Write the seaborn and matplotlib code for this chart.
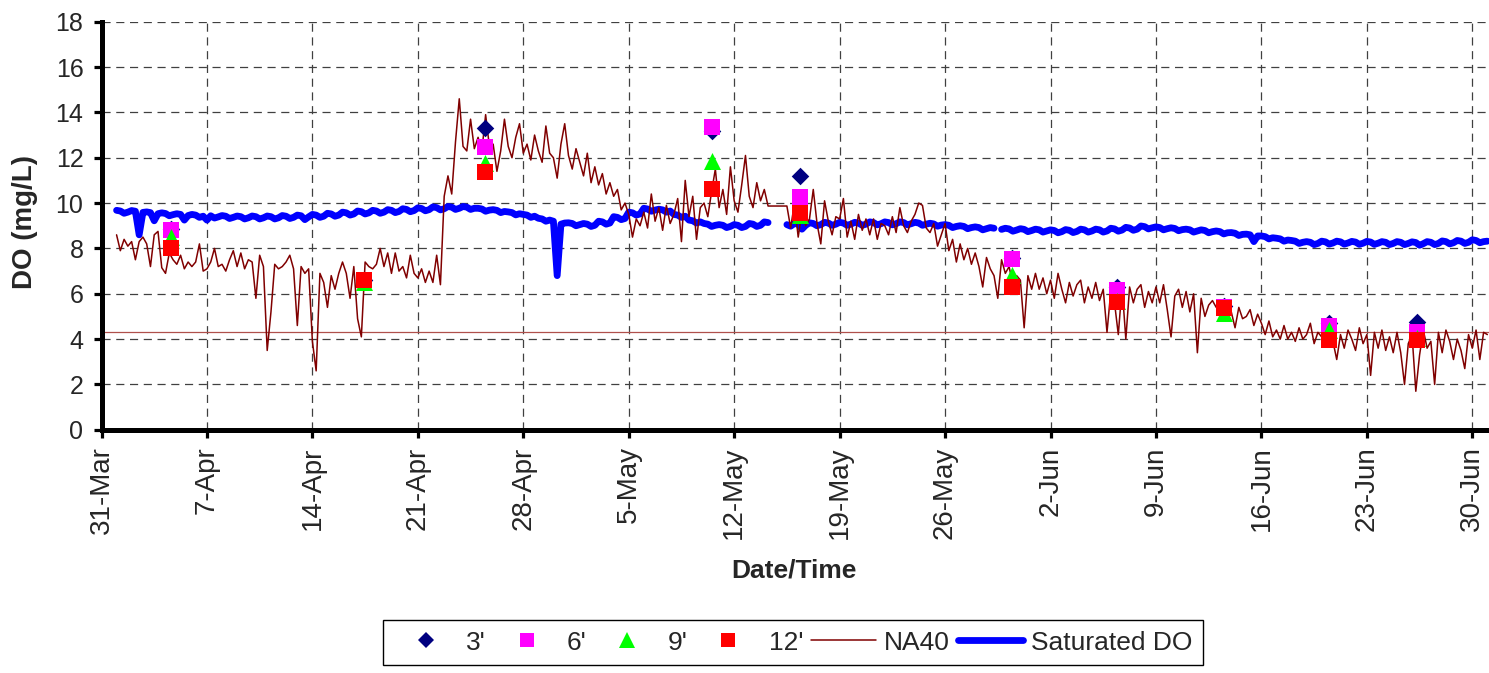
import numpy as np
import pandas as pd
import matplotlib
matplotlib.use("Agg")
import matplotlib.pyplot as plt
import matplotlib.dates as mdates
from matplotlib.lines import Line2D
from matplotlib.ticker import FuncFormatter
import seaborn as sns

# ---------------------------------------------------------------------------
# Data
# ---------------------------------------------------------------------------
# Continuous sonde record at NA40, readings every 6 hours (00, 06, 12, 18 h),
# one row per day starting 1 Apr.
na40_do = [
    8.6, 7.9, 8.4, 8.1,    # 1 Apr
    8.3, 7.5, 8.3, 8.5,
    8.2, 7.2, 8.6, 8.75,
    7.15, 6.9, 7.8, 7.5,
    7.3, 7.7, 7.1, 7.4,    # 5 Apr
    7.2, 7.4, 8.2, 7.0,
    7.1, 7.4, 8.0, 7.2,
    7.3, 7.0, 7.5, 7.9,
    7.2, 7.8, 7.1, 7.5,
    7.4, 5.8, 7.7, 7.2,    # 10 Apr
    3.5, 5.2, 7.3, 7.1,
    7.2, 7.4, 7.7, 7.1,
    4.6, 7.2, 6.9, 7.1,
    3.9, 2.6, 6.9, 6.5,
    5.4, 6.8, 6.2, 6.9,    # 15 Apr
    7.4, 6.9, 5.8, 7.2,
    4.9, 4.1, 7.4, 7.2,
    7.1, 7.3, 8.0, 7.2,
    7.8, 6.9, 7.8, 7.0,
    7.2, 6.7, 7.7, 6.9,    # 20 Apr
    6.7, 7.1, 6.5, 7.0,
    6.5, 7.7, 6.4, 10.3,
    11.2, 10.4, 12.7, 14.6,
    12.5, 12.3, 13.7, 12.4,
    12.9, 12.3, 13.9, 12.5,  # 25 Apr
    12.6, 11.4, 12.3, 13.7,
    12.5, 12.0, 12.9, 13.5,
    12.2, 12.6, 11.9, 13.0,
    12.3, 11.8, 13.4, 12.2,
    12.0, 11.1, 12.6, 13.5,  # 30 Apr
    12.1, 11.5, 12.4, 11.8,  # 1 May
    11.2, 12.2, 10.9, 11.6,
    10.8, 11.3, 10.4, 10.9,
    10.3, 10.6, 9.7, 10.0,
    9.5, 8.5, 9.3, 9.0,      # 5 May
    9.6, 8.9, 10.4, 9.2,
    9.8, 8.8, 9.9, 9.1,
    9.5, 10.2, 8.3, 11.0,
    9.4, 10.3, 8.4, 9.8,
    10.0, 9.4, 10.5, 11.5,   # 10 May
    9.8, 10.6, 9.5, 11.6,
    10.1, 9.6, 10.8, 12.1,
    10.3, 9.8, 10.9, 10.1,
    10.6, 9.87, 9.87, 9.87,
    9.87, 9.87, 9.87, 8.9,   # 15 May
    10.0, 8.5, 9.6, 9.0,
    9.3, 10.6, 9.1, 8.2,
    10.1, 9.2, 8.6, 9.4,
    9.3, 10.2, 8.5, 9.2,
    8.4, 9.5, 8.8, 9.3,      # 20 May
    8.6, 9.3, 8.4, 9.1,
    9.0, 8.6, 9.4, 8.7,
    9.8, 9.0, 8.7, 9.2,
    9.5, 10.0, 9.9, 8.9,
    8.7, 9.1, 8.1, 8.6,      # 25 May
    9.1, 7.9, 8.4, 7.4,
    8.2, 7.5, 8.0, 7.3,
    7.8, 7.2, 6.3, 7.6,
    7.1, 6.8, 5.8, 7.5,
    6.9, 7.2, 6.4, 6.8,      # 30 May
    6.6, 4.5, 6.8, 6.2,
    6.9, 6.2, 6.7, 6.0,      # 1 Jun
    6.6, 5.8, 6.9, 6.2,
    5.6, 6.5, 5.9, 6.4,
    6.6, 5.6, 6.3, 5.8,
    6.5, 5.7, 6.2, 4.3,      # 5 Jun
    6.1, 5.6, 4.2, 6.3,
    4.0, 6.3, 5.6, 6.2,
    6.4, 5.4, 6.1, 5.6,
    6.3, 5.6, 6.4, 5.3,
    4.1, 5.9, 6.2, 5.4,      # 10 Jun
    6.1, 5.2, 6.0, 3.4,
    5.8, 5.0, 5.5, 5.7,
    5.4, 5.7, 4.9, 5.3,
    5.2, 4.5, 5.4, 4.9,
    5.0, 5.3, 4.6, 5.1,      # 15 Jun
    4.7, 4.2, 4.8, 4.1,
    4.4, 4.0, 4.6, 4.0,
    4.3, 3.9, 4.5, 4.0,
    4.2, 4.7, 3.8, 4.3,
    4.1, 3.7, 4.6, 3.9,      # 20 Jun
    3.1, 4.2, 3.6, 4.4,
    4.0, 3.5, 4.5, 3.8,
    4.2, 2.4, 4.3, 3.6,
    4.4, 3.5, 4.1, 3.4,
    4.3, 3.4, 2.0, 3.8,      # 25 Jun
    4.2, 1.7, 3.3, 4.4,
    3.6, 3.9, 2.0, 4.3,
    3.4, 4.4, 3.9, 3.1,
    4.0, 3.5, 2.7, 4.2,
    3.6, 4.4, 3.1, 4.3,      # 30 Jun
    4.2,                     # 1 Jul
]

# Saturated DO on the same 6-hourly clock (NaN = no reading)
saturated_do = [
    9.68, 9.65, 9.55, 9.60,   # 1 Apr
    9.67, 9.64, 8.60, 9.59,
    9.61, 9.58, 9.22, 9.53,
    9.57, 9.54, 9.44, 9.49,
    9.53, 9.50, 9.25, 9.45,   # 5 Apr
    9.50, 9.47, 9.37, 9.42,
    9.25, 9.44, 9.34, 9.39,
    9.45, 9.42, 9.32, 9.37,
    9.43, 9.40, 9.30, 9.35,
    9.43, 9.40, 9.30, 9.35,   # 10 Apr
    9.43, 9.40, 9.30, 9.35,
    9.45, 9.42, 9.32, 9.37,
    9.47, 9.44, 9.27, 9.39,
    9.50, 9.47, 9.37, 9.42,
    9.55, 9.52, 9.42, 9.47,   # 15 Apr
    9.60, 9.57, 9.47, 9.52,
    9.65, 9.62, 9.52, 9.57,
    9.68, 9.65, 9.55, 9.60,
    9.71, 9.68, 9.58, 9.63,
    9.75, 9.72, 9.62, 9.67,   # 20 Apr
    9.79, 9.76, 9.66, 9.71,
    9.83, 9.80, 9.70, 9.75,
    9.85, 9.82, 9.72, 9.77,
    9.85, 9.82, 9.72, 9.77,
    9.77, 9.74, 9.64, 9.69,   # 25 Apr
    9.71, 9.68, 9.58, 9.63,
    9.61, 9.58, 9.48, 9.53,
    9.50, 9.47, 9.37, 9.42,
    9.33, 9.30, 9.20, 9.25,
    9.20, 6.80, 9.07, 9.12,   # 30 Apr
    9.13, 9.10, 9.00, 9.05,   # 1 May
    9.10, 9.07, 8.97, 9.02,
    9.20, 9.17, 9.07, 9.12,
    9.40, 9.37, 9.27, 9.32,
    9.60, 9.57, 9.47, 9.52,   # 5 May
    9.77, 9.74, 9.64, 9.69,
    9.73, 9.70, 9.60, 9.65,
    9.50, 9.47, 9.37, 9.42,
    9.25, 9.22, 9.12, 9.17,
    9.10, 9.07, 8.97, 9.02,   # 10 May
    9.05, 9.02, 8.92, 8.97,
    9.05, 9.02, 8.92, 8.97,
    9.10, 9.07, 8.97, 9.02,
    9.17, 9.14, np.nan, np.nan,
    np.nan, np.nan, 9.05, 8.98,  # 15 May
    9.10, 9.07, 8.85, 9.02,
    9.13, 9.10, 9.00, 9.05,
    9.15, 9.12, 9.02, 9.07,
    9.15, 9.12, 9.02, 9.07,
    9.15, 9.12, 9.02, 9.07,   # 20 May
    9.17, 9.14, 9.04, 9.09,
    9.17, 9.14, 9.04, 9.09,
    9.17, 9.14, 9.04, 9.09,
    9.15, 9.12, 9.02, 9.07,
    9.11, 9.08, 8.98, 9.03,   # 25 May
    9.05, 9.02, 8.92, 8.97,
    9.00, 8.97, 8.87, 8.92,
    8.95, 8.92, 8.82, 8.87,
    8.92, 8.89, np.nan, 8.84,
    8.89, 8.86, 8.76, 8.81,   # 30 May
    8.87, 8.84, 8.74, 8.79,
    8.85, 8.82, 8.72, 8.77,   # 1 Jun
    8.82, 8.79, 8.69, 8.74,
    8.83, 8.80, 8.70, 8.75,
    8.85, 8.82, 8.72, 8.77,
    8.85, 8.82, 8.72, 8.77,   # 5 Jun
    8.89, 8.86, 8.76, 8.81,
    8.93, 8.90, 8.80, 8.85,
    8.99, 8.96, 8.86, 8.91,
    8.95, 8.92, 8.82, 8.87,
    8.91, 8.88, 8.78, 8.83,   # 10 Jun
    8.85, 8.82, 8.72, 8.77,
    8.82, 8.79, 8.69, 8.74,
    8.77, 8.74, 8.64, 8.69,
    8.70, 8.67, 8.57, 8.62,
    8.63, 8.60, 8.30, 8.55,   # 15 Jun
    8.55, 8.52, 8.42, 8.47,
    8.45, 8.42, 8.32, 8.37,
    8.35, 8.32, 8.22, 8.27,
    8.30, 8.27, 8.17, 8.22,
    8.32, 8.29, 8.19, 8.24,   # 20 Jun
    8.32, 8.29, 8.19, 8.24,
    8.31, 8.28, 8.18, 8.23,
    8.31, 8.28, 8.18, 8.23,
    8.30, 8.27, 8.17, 8.22,
    8.30, 8.27, 8.17, 8.22,   # 25 Jun
    8.29, 8.26, 8.14, 8.21,
    8.30, 8.27, 8.17, 8.22,
    8.33, 8.30, 8.20, 8.25,
    8.35, 8.32, 8.22, 8.27,
    8.38, 8.35, 8.25, 8.30,   # 30 Jun
    8.32,                     # 1 Jul
]

series_start = "2009-04-01"

# Profile samples at four depths
sample_times = [
    "2009-04-04 14:30", "2009-04-17 10:00", "2009-04-25 11:30",
    "2009-05-10 12:15", "2009-05-16 08:40", "2009-05-30 10:20",
    "2009-06-06 09:40", "2009-06-13 12:00", "2009-06-20 11:00",
    "2009-06-26 08:00",
]
do_3ft = [8.87, 6.60, 13.31, 13.18, 11.20, 7.56, 6.29, 5.45, 4.70, 4.77]
do_6ft = [8.83, 6.60, 12.49, 13.37, 10.28, 7.54, 6.15, 5.40, 4.58, 4.33]
do_9ft = [8.50, 6.53, 11.77, 11.87, 9.48, 6.81, 5.66, 5.15, 4.38, 4.05]
do_12ft = [8.02, 6.61, 11.37, 10.60, 9.57, 6.28, 5.62, 5.38, 3.94, 3.94]

depth_labels = ["3'", "6'", "9'", "12'"]
reference_do = 4.3

y_ticks = list(range(0, 19, 2))
first_tick = "2009-03-31"
n_date_ticks = 14

# ---------------------------------------------------------------------------
# Figure
# ---------------------------------------------------------------------------
sns.set_style("white")
plt.rcParams["font.family"] = ["Liberation Sans", "DejaVu Sans"]

W_PX, H_PX = 1489, 673
fig = plt.figure(figsize=(W_PX / 100, H_PX / 100), dpi=100)
left, right, top, bottom = 101.5, 1488.5, 21.7, 429.8
ax = fig.add_axes([left / W_PX, 1 - bottom / H_PX,
                   (right - left) / W_PX, (bottom - top) / H_PX])

times = pd.date_range(series_start, periods=len(na40_do), freq="6h")

# Saturated DO, split into runs at missing readings
sat = pd.DataFrame({"time": times, "do": saturated_do})
sat["run"] = sat["do"].isna().cumsum()
sat = sat.dropna()
sns.lineplot(data=sat, x="time", y="do", units="run", estimator=None,
             color="#0000FF", linewidth=4.9, solid_capstyle="round",
             solid_joinstyle="round", ax=ax, zorder=2, legend=False)

# Reference level
ax.axhline(reference_do, color="#B0504C", linewidth=0.9, zorder=1.5)

# NA40 sonde
na = pd.DataFrame({"time": times, "do": na40_do})
sns.lineplot(data=na, x="time", y="do", estimator=None, color="#800000",
             linewidth=1.1, ax=ax, zorder=3, legend=False)

# Depth samples
st = pd.to_datetime(sample_times)
marker_styles = [
    (do_3ft, "D", "#000080", 80),
    (do_6ft, "s", "#FF00FF", 118),
    (do_9ft, "^", "#00FF00", 150),
    (do_12ft, "s", "#FF0000", 118),
]
for vals, m, c, s in marker_styles:
    sns.scatterplot(x=st, y=vals, marker=m, color=c, s=s, linewidth=0,
                    ax=ax, zorder=4, legend=False)

# Axes
x0 = pd.Timestamp(first_tick)
px_per_day = (1472.3 - left) / 91.0
ax.set_xlim(x0, x0 + pd.Timedelta(days=(right - left) / px_per_day))
ax.set_ylim(0, 18)
ax.set_yticks(y_ticks)
date_ticks = pd.date_range(first_tick, periods=n_date_ticks, freq="7D")
ax.set_xticks(date_ticks)
ax.xaxis.set_major_formatter(FuncFormatter(
    lambda v, pos: f"{mdates.num2date(v).day}-{mdates.num2date(v).strftime('%b')}"))

ax.grid(True, color="#404040", linewidth=0.9, linestyle=(0, (6.5, 4.5)))
ax.set_axisbelow(True)
for side in ("top", "right"):
    ax.spines[side].set_visible(False)
for side in ("left", "bottom"):
    ax.spines[side].set_linewidth(3.6)
    ax.spines[side].set_color("black")
    ax.spines[side].set_zorder(5)

ax.tick_params(axis="both", direction="out", length=5.5, width=2.3,
               color="black", bottom=True, left=True)
ax.tick_params(axis="y", labelsize=18, pad=7.5)
ax.tick_params(axis="x", labelsize=20, pad=6.5, labelrotation=90)

ax.set_ylabel("DO (mg/L)", fontsize=20, fontweight="bold")
ax.yaxis.set_label_coords((25 - left) / (right - left), 0.51)
ax.yaxis.label.set_va("center")
ax.set_xlabel("Date/Time", fontsize=19, fontweight="bold")
ax.xaxis.set_label_coords((794 - left) / (right - left),
                          -(571 - bottom) / (bottom - top))
ax.xaxis.label.set_va("center")

# Legend
handles = [
    Line2D([], [], linestyle="none", marker="D", markersize=8.5,
           markerfacecolor="#000080", markeredgewidth=0),
    Line2D([], [], linestyle="none", marker="s", markersize=10.2,
           markerfacecolor="#FF00FF", markeredgewidth=0),
    Line2D([], [], linestyle="none", marker="^", markersize=11.5,
           markerfacecolor="#00FF00", markeredgewidth=0),
    Line2D([], [], linestyle="none", marker="s", markersize=10.2,
           markerfacecolor="#FF0000", markeredgewidth=0),
    Line2D([], [], color="#800000", linewidth=1.1),
    Line2D([], [], color="#0000FF", linewidth=4.9, solid_capstyle="round"),
]
labels = depth_labels + ["NA40", "Saturated DO"]
leg = fig.legend(handles, labels, loc="upper left",
                 bbox_to_anchor=(383 / W_PX, 1 - 620 / H_PX),
                 ncol=6, fontsize=19, frameon=True, fancybox=False,
                 edgecolor="black", framealpha=1, borderpad=0.4,
                 borderaxespad=0, handlelength=2.45, handletextpad=0.3,
                 columnspacing=0.32, numpoints=1)
leg.get_frame().set_linewidth(1.0)

fig.savefig("out.png", dpi=100)
